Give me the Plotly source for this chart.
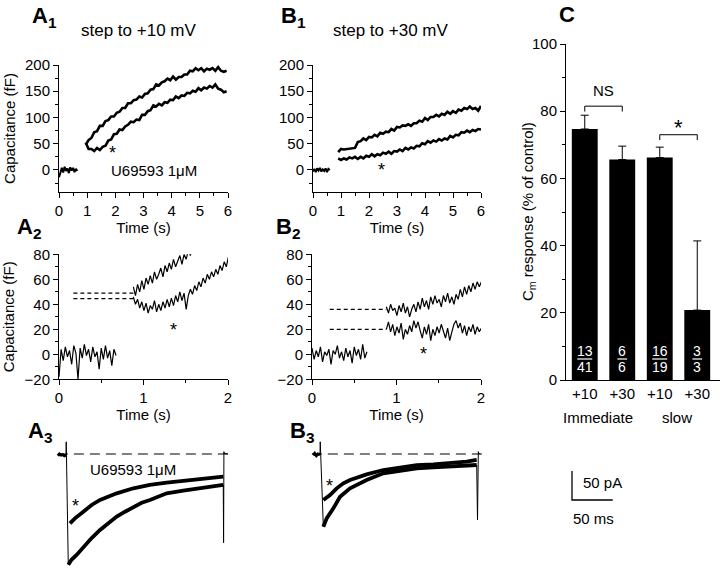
import numpy as np
import plotly.graph_objects as go

# ---------------- data ----------------
# Panel A1 (step to +10 mV): capacitance (fF) vs time (s)
A1_BASE_T = np.round(np.arange(0, 0.66, 0.05), 3)
A1_BASE = [-14, -3, 4, -5, 6, -2, 3, -6, 5, -1, 4, -4, 2, -2]
A1_T = np.round(np.arange(0.95, 5.96, 0.1), 3)
A1_CONTROL = [48, 57, 61, 72, 74, 84, 84, 93, 95, 102, 102, 109, 111, 118, 118, 127, 127,
              133, 134, 140, 138, 145, 146, 153, 154, 163, 161, 167, 169, 174, 171, 178, 172,
              177, 177, 182, 182, 189, 188, 194, 190, 194, 188, 193, 191, 194, 189, 196, 189,
              187, 189]
A1_DRUG = [52, 40, 40, 36, 42, 38, 44, 46, 56, 58, 68, 69, 77, 76, 83, 86, 92, 91, 96, 95,
           105, 105, 112, 114, 123, 121, 126, 123, 129, 128, 134, 133, 140, 137, 142, 141,
           147, 146, 151, 149, 156, 152, 157, 155, 160, 157, 163, 155, 153, 148, 150]

# Panel B1 (step to +30 mV)
B1_BASE_T = np.round(np.arange(0, 0.61, 0.05), 3)
B1_BASE = [-3, 2, -4, 3, -1, 4, -3, 1, -2, 3, -4, 2, 0]
B1_T = np.round(np.arange(0.9, 6.01, 0.1), 3)
B1_CONTROL = [34, 40, 39, 40, 40, 41, 42, 53, 55, 60, 57, 63, 62, 67, 64, 71, 69, 73, 72,
              78, 75, 82, 81, 85, 84, 87, 84, 89, 89, 94, 92, 99, 95, 101, 101, 105, 102,
              107, 105, 111, 107, 112, 109, 115, 113, 118, 116, 121, 116, 118, 113, 122]
B1_DRUG = [22, 19, 22, 20, 24, 22, 25, 21, 25, 22, 27, 25, 30, 26, 30, 28, 33, 31, 35, 31,
           36, 35, 39, 36, 42, 39, 43, 41, 46, 45, 51, 49, 55, 52, 56, 54, 59, 56, 60, 58,
           65, 62, 67, 66, 72, 71, 75, 72, 76, 74, 78, 77]

# Panel A2 (expanded, +10 mV)
A2_BASE_T = np.round(np.arange(0, 0.676, 0.025), 4)
A2_BASE = [-18, 4, -5, 6, -2, 3, -8, 7, 1, -20, 5, -3, 8, -1, 4, -6, 6, -2, 2, -12, 5, -4,
           7, -3, 3, -9, 4, -1]
A2_UP_T = np.round(np.arange(0.88, 1.731, 0.025), 4)
A2_UP = [54, 47, 56, 50, 59, 52, 61, 56, 63, 57, 66, 60, 64, 69, 62, 71, 66, 73, 68, 76,
         70, 74, 79, 72, 80, 76, 83, 79, 85, 81, 86, 83, 88, 82, 87]
A2_LOW_T = np.round(np.arange(0.88, 2.006, 0.025), 4)
A2_LOW = [46, 40, 44, 37, 42, 35, 41, 33, 39, 36, 43, 34, 40, 35, 42, 37, 44, 38, 45, 39,
          47, 42, 50, 43, 49, 36, 47, 52, 48, 55, 51, 58, 54, 61, 57, 64, 60, 66, 62, 68,
          64, 71, 67, 74, 70, 78]
A2_LEVELS = [49, 44.5]
A2_LEVEL_T = [0.17, 0.88]

# Panel B2 (expanded, +30 mV)
B2_BASE_T = np.round(np.arange(0, 0.651, 0.025), 4)
B2_BASE = [5, -4, 3, -2, 6, -6, 2, -1, 4, -8, 3, 0, 7, -3, 2, -5, 5, -2, 3, -7, 6, -1, 4,
           -4, 8, -3, 2]
B2_T = np.round(np.arange(0.88, 2.006, 0.025), 4)
B2_UP = [38, 33, 40, 35, 37, 31, 39, 34, 41, 33, 38, 30, 36, 40, 34, 42, 36, 45, 38, 43,
         36, 46, 40, 47, 41, 44, 38, 47, 42, 49, 41, 46, 40, 48, 44, 52, 46, 54, 48, 55,
         50, 57, 52, 58, 54, 58]
B2_LOW = [20, 26, 18, 24, 15, 22, 17, 25, 12, 20, 16, 23, 18, 27, 21, 26, 19, 13, 22, 16,
          24, 11, 20, 15, 22, 17, 24, 19, 13, 21, 11, 18, 24, 27, 21, 25, 17, 23, 15, 22,
          18, 24, 16, 22, 18, 21]
B2_LEVELS = [36, 20]
B2_LEVEL_T = [0.21, 0.88]

# Panel A3: Ca current (ms, pA)
A3_PRE_T = [-10, -8, -6, -4, -2, 0]
A3_PRE = [-3, 0, -2, -1, -3, -2]
A3_CTRL_T = [2.8, 7, 13, 21.3, 31.5, 41.8, 52, 62.3, 72.5, 82.7, 93, 103.2, 123.7, 144,
             164.6, 181, 193.2]
A3_CTRL = [-191, -182, -174, -160, -145, -131, -119.5, -108, -99.5, -90.9, -84, -79.3,
           -67.8, -63.2, -59.1, -55.2, -53.4]
A3_DRUG_T = [4.9, 11, 21.3, 31.5, 41.8, 52, 62.3, 82.7, 103, 123.7, 144, 164.6, 193.2]
A3_DRUG = [-119.5, -111, -99.5, -87.9, -79.3, -73.6, -67.8, -59.1, -53.4, -49.5, -46,
           -43.6, -39.1]
A3_ON_T = [0, 0.3, 2.8]
A3_ON = [-2, 21, -191]
A3_OFF_T = [193.2, 193.6, 194, 194.4, 199]
A3_OFF = [-53.4, -153, 4, 1, 0]

# Panel B3
B3_PRE_T = [-8.6, -6.5, -4.5, -2.5, 0]
B3_PRE = [-2, 1, -3, 0, -1]
B3_CTRL_T = [4.1, 8.2, 16.4, 24.6, 36.9, 57.3, 77.8, 98.3, 118.8, 139.2, 159.7, 180.2, 192.5]
B3_CTRL = [-125.3, -111, -93.7, -73.6, -59.2, -44.8, -33.3, -28.7, -24.7, -23, -21.8,
           -20.7, -19]
B3_DRUG_T = [4.1, 12.3, 20.5, 28.7, 36.9, 57.3, 77.8, 98.3, 118.8, 139.2, 159.7, 180.2,
             192.5]
B3_DRUG = [-79.3, -70.7, -59.2, -50.6, -44.8, -35.1, -27.6, -23, -19, -17.8, -16.1, -13.2,
           -10.3]
B3_ON_T = [0, 0.3, 4.1]
B3_ON = [-1, 21, -125.3]
B3_OFF_T = [192.5, 193.5, 194.5, 195, 197]
B3_OFF = [-19, -113.8, 4, 1, 0]
STEP_SPAN = [-10, 199]

SCALE_PA = 50
SCALE_MS = 50

# Panel C: bar chart
C_TICKS = ["+10", "+30", "+10", "+30"]
C_GROUPS = ["Immediate", "slow"]
C_MEANS = [74.7, 65.6, 66.2, 20.8]
C_SEM = [4.1, 4.0, 3.1, 20.6]
C_N = [13, 6, 16, 3]
C_TOTAL = [41, 6, 19, 3]

# ---------------- figure ----------------
W, H = 720, 571
FONT = "Arial, Liberation Sans, sans-serif"


def px(x):
    return x / W


def py(y):
    return 1 - y / H


fig = go.Figure()


def line(x, y, ax, width=1.2, dash=None):
    fig.add_trace(go.Scatter(x=list(x), y=list(y), mode="lines",
                             xaxis="x" + ax, yaxis="y" + ax,
                             line=dict(color="black", width=width, dash=dash),
                             showlegend=False, hoverinfo="skip"))


# A1
line(A1_BASE_T, A1_BASE, "1", width=2)
line(A1_T, A1_CONTROL, "1", width=2.6)
line(A1_T, A1_DRUG, "1", width=2.6)
# B1
line(B1_BASE_T, B1_BASE, "2", width=2)
line(B1_T, B1_CONTROL, "2", width=2.6)
line(B1_T, B1_DRUG, "2", width=2.6)
# A2
line(A2_BASE_T, A2_BASE, "3", width=1.2)
line(A2_UP_T, A2_UP, "3", width=1.2)
line(A2_LOW_T, A2_LOW, "3", width=1.2)
for lv in A2_LEVELS:
    line(A2_LEVEL_T, [lv, lv], "3", width=1.3, dash="4px,3px")
# B2
line(B2_BASE_T, B2_BASE, "4", width=1.2)
line(B2_T, B2_UP, "4", width=1.2)
line(B2_T, B2_LOW, "4", width=1.2)
for lv in B2_LEVELS:
    line(B2_LEVEL_T, [lv, lv], "4", width=1.3, dash="4px,3px")
# A3
line(STEP_SPAN, [0, 0], "5", width=1.2, dash="10px,6px")
line(A3_PRE_T, A3_PRE, "5", width=3)
line(A3_ON_T, A3_ON, "5", width=1)
line(A3_CTRL_T, A3_CTRL, "5", width=3.8)
line(A3_DRUG_T, A3_DRUG, "5", width=3.8)
line(A3_OFF_T, A3_OFF, "5", width=1)
# B3
line(STEP_SPAN, [0, 0], "6", width=1.2, dash="10px,6px")
line(B3_PRE_T, B3_PRE, "6", width=3)
line(B3_ON_T, B3_ON, "6", width=1)
line(B3_CTRL_T, B3_CTRL, "6", width=3.8)
line(B3_DRUG_T, B3_DRUG, "6", width=3.8)
line(B3_OFF_T, B3_OFF, "6", width=1)
# scale bar
line([0, 0, SCALE_MS], [SCALE_PA, 0, 0], "7", width=1.3)

# C bars
fig.add_trace(go.Bar(x=list(range(len(C_MEANS))), y=C_MEANS, width=0.69,
                     marker=dict(color="black", line=dict(width=0)),
                     error_y=dict(type="data", array=C_SEM, arrayminus=[0] * len(C_SEM),
                                  symmetric=False, color="black", thickness=1, width=4),
                     xaxis="x8", yaxis="y8", showlegend=False, hoverinfo="skip"))

tickfont = dict(family=FONT, size=15, color="black")
titlefont = dict(family=FONT, size=15, color="black")


def xax(dom, rng, anchor, dtick, minor, title="Time (s)"):
    return dict(domain=dom, range=rng, anchor=anchor, showline=True, linecolor="black",
                linewidth=1, ticks="outside", ticklen=5, tickwidth=1, tickcolor="black",
                dtick=dtick, tick0=0, minor=dict(ticks="outside", ticklen=3, dtick=minor,
                                                 tickcolor="black", tickwidth=1),
                showgrid=False, zeroline=False, tickfont=tickfont, automargin=False,
                title=dict(text=title, font=titlefont, standoff=3))


def yax(dom, rng, anchor, dtick, minor, title=None, standoff=6):
    d = dict(domain=dom, range=rng, anchor=anchor, showline=True, linecolor="black",
             linewidth=1, ticks="outside", ticklen=5, tickwidth=1, tickcolor="black",
             dtick=dtick, tick0=0, minor=dict(ticks="outside", ticklen=3, dtick=minor,
                                              tickcolor="black", tickwidth=1),
             showgrid=False, zeroline=False, tickfont=tickfont, automargin=False)
    if title:
        d["title"] = dict(text=title, font=titlefont, standoff=standoff)
    return d


def hidden(dom, rng, anchor):
    return dict(domain=dom, range=rng, anchor=anchor, visible=False, showgrid=False,
                zeroline=False, automargin=False)


row1 = [py(192), py(65)]
row2 = [py(379.3), py(254.3)]
row3 = [0, py(435)]
a3_y = [-(571 - 454) / 0.58, -(435 - 454) / 0.58]

fig.update_layout(
    width=W, height=H, margin=dict(l=0, r=0, t=0, b=0, autoexpand=False),
    paper_bgcolor="white", plot_bgcolor="rgba(0,0,0,0)",
    font=dict(family=FONT, color="black"),
    xaxis=xax([px(59), px(228)], [0, 6], "y", 1, 0.5),
    yaxis=yax(row1, [-42, 200], "x", 50, 25, "Capacitance (fF)", 5),
    xaxis2=xax([px(313), px(481)], [0, 6], "y2", 1, 0.5),
    yaxis2=yax(row1, [-42, 200], "x2", 50, 25),
    xaxis3=xax([px(59), px(228)], [0, 2], "y3", 1, 0.5),
    yaxis3=yax(row2, [-20, 80], "x3", 20, 10, "Capacitance (fF)", 6),
    xaxis4=xax([px(312), px(481)], [0, 2], "y4", 1, 0.5),
    yaxis4=yax(row2, [-20, 80], "x4", 20, 10),
    xaxis5=hidden([px(55), px(235)], [(55 - 66) / 0.814, (235 - 66) / 0.814], "y5"),
    yaxis5=hidden(row3, a3_y, "x5"),
    xaxis6=hidden([px(305), px(490)], [(305 - 320) / 0.814, (490 - 320) / 0.814], "y6"),
    yaxis6=hidden(row3, a3_y, "x6"),
    xaxis7=hidden([px(560), px(640)], [(560 - 572) / 0.814, (640 - 572) / 0.814], "y7"),
    yaxis7=hidden(row3, [-(571 - 500) / 0.58, (500 - 435) / 0.58], "x7"),
    xaxis8=dict(domain=[px(566), px(720)], range=[-0.5, (720 - 566) / 37.5 - 0.5],
                anchor="y8", showline=True, linecolor="black", linewidth=1, ticks="",
                tickvals=list(range(len(C_TICKS))), ticktext=C_TICKS, tickfont=tickfont,
                showgrid=False, zeroline=False, automargin=False),
    yaxis8=dict(domain=[py(380), py(44)], range=[0, 100], anchor="x8", showline=True,
                linecolor="black", linewidth=1, ticks="outside", ticklen=5,
                tickcolor="black", dtick=20, tick0=0,
                minor=dict(ticks="outside", ticklen=3, dtick=10, tickcolor="black"),
                showgrid=False, zeroline=False, tickfont=tickfont, automargin=False),
    bargap=0.3,
)


def ann(text, x, y, size=15, color="black", xanchor="center", yanchor="middle",
        angle=0):
    fig.add_annotation(text=text, x=px(x), y=py(y), xref="paper", yref="paper",
                       showarrow=False, font=dict(family=FONT, size=size, color=color),
                       xanchor=xanchor, yanchor=yanchor, textangle=angle)


def dann(text, x, y, ax, size=15, color="black", yshift=0, xanchor="center"):
    fig.add_annotation(text=text, x=x, y=y, xref="x" + ax, yref="y" + ax,
                       showarrow=False, font=dict(family=FONT, size=size, color=color),
                       yshift=yshift, xanchor=xanchor)


# panel letters
for lab, x, y in [("A<sub>1</sub>", 44, 17), ("B<sub>1</sub>", 293, 17),
                  ("A<sub>2</sub>", 29, 228), ("B<sub>2</sub>", 288, 228),
                  ("A<sub>3</sub>", 40, 432), ("B<sub>3</sub>", 302, 432),
                  ("C", 567, 14)]:
    ann("<b>" + lab + "</b>", x, y, size=22)

ann("step to +10 mV", 138, 30, size=17)
ann("step to +30 mV", 391, 30, size=17)

# C axis title
ann("C<sub>m</sub> response (% of control)", 528, 212, angle=-90)

# asterisks & drug labels
dann("*", 1.91, 41, "1", size=18, yshift=-5)
dann("U69593 1μM", 3.37, -1, "1")
dann("*", 2.45, 9.5, "2", size=18, yshift=-5)
dann("*", 1.35, 23.5, "3", size=18, yshift=-5)
dann("*", 1.32, 4, "4", size=18, yshift=-5)
ann("U69593 1μM", 132.5, 469)
ann("*", 75, 506, size=18)
ann("*", 329.3, 486, size=18)

# scale bar labels
ann(f"{SCALE_PA} pA", 581, 482, xanchor="left")
ann(f"{SCALE_MS} ms", 571, 518, xanchor="left")

# C annotations
for i, (n, tot) in enumerate(zip(C_N, C_TOTAL)):
    dann(str(n), i, 8.6, "8", size=14, color="white")
    dann(str(tot), i, 3.9, "8", size=14, color="white")
    hw = 0.2 if tot >= 10 else 0.13
    fig.add_shape(type="line", xref="x8", yref="y8", x0=i - hw, x1=i + hw, y0=6.25,
                  y1=6.25, line=dict(color="white", width=1.2))

ann(C_GROUPS[0], 598, 417)
ann(C_GROUPS[1], 677, 417)
for (a, b, top, low, lab, lab_y) in [(0, 1, 81.5, 79.9, "NS", 86.1),
                                     (2, 3, 73.0, 71.4, "*", 76.9)]:
    fig.add_shape(type="path", xref="x8", yref="y8",
                  path=f"M {a},{low} L {a},{top} L {b},{top} L {b},{low}",
                  line=dict(color="black", width=1))
    dann(lab, (a + b) / 2, lab_y, "8", size=15 if lab == "NS" else 22,
         yshift=-6 if lab == "*" else 0)

fig.write_html("out.html", config={"displayModeBar": False},
               post_script="document.body.style.margin='0';"
                           "document.body.style.padding='0';"
                           "document.body.style.overflow='hidden';")
